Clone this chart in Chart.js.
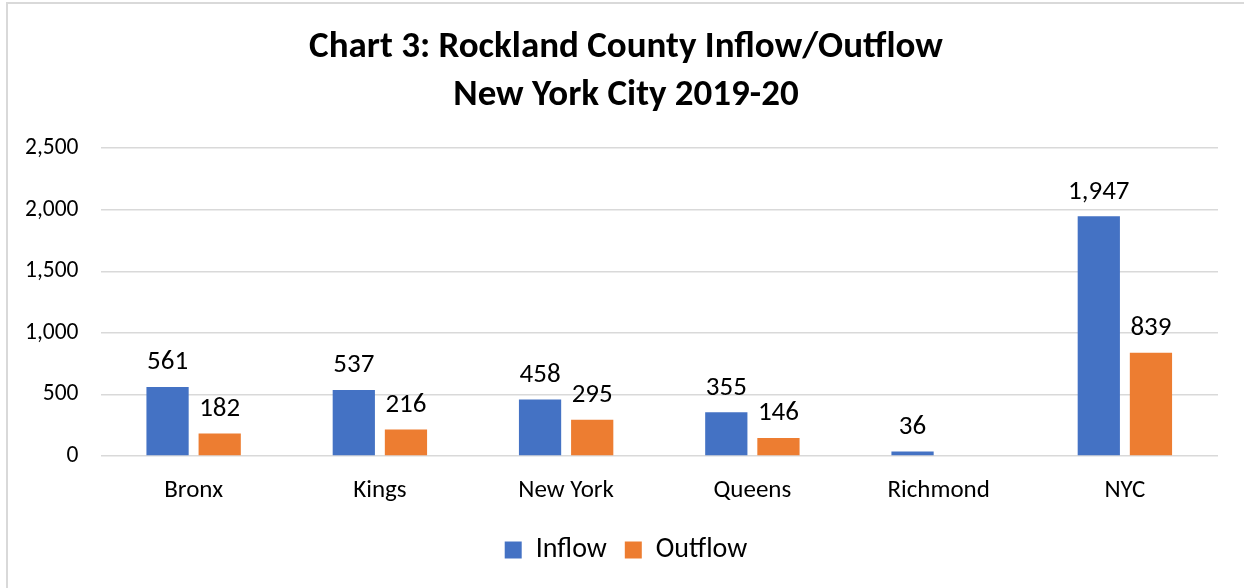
<!DOCTYPE html>
<html>
<head>
<meta charset="utf-8">
<script src="https://cdn.jsdelivr.net/npm/chart.js@4"></script>
<style>
  body { margin: 0; background: #fff; overflow: hidden; }
  #frame { position: absolute; left: 6px; top: 2px; width: 1260px; height: 600px; border: 2px solid #d9d9d9; box-sizing: border-box; }
  #box { position: absolute; left: -5px; top: 0; width: 1246px; height: 584px; }
</style>
</head>
<body>
<div id="frame"><div id="box"><canvas id="myChart"></canvas></div></div>
<script>
// Rockland County inflow/outflow with NYC boroughs, 2019-20
const boroughs = ['Bronx', 'Kings', 'New York', 'Queens', 'Richmond', 'NYC'];
const inflow = [561, 537, 458, 355, 36, 1947];
const outflow = [182, 216, 295, 146, null, 839];
const yTicks = [0, 500, 1000, 1500, 2000, 2500];

const FONT = 'Carlito, Lato, sans-serif';

// draw the number above each bar
const barLabels = {
    id: 'barLabels',
    afterDatasetsDraw(chart) {
        const ctx = chart.ctx;
        ctx.save();
        ctx.font = '27px ' + FONT;
        ctx.fillStyle = '#000';
        ctx.textAlign = 'center';
        ctx.textBaseline = 'bottom';
        chart.data.datasets.forEach((ds, i) => {
            chart.getDatasetMeta(i).data.forEach((bar, j) => {
                const v = ds.data[j];
                if (v === null) return;
                ctx.fillText(v.toLocaleString('en-US'), bar.x, bar.y - 11);
            });
        });
        ctx.restore();
    }
};

const ctx = document.getElementById('myChart');
new Chart(ctx, {
    type: 'bar',
    data: {
        labels: boroughs,
        datasets: [
            { label: 'Inflow', data: inflow, backgroundColor: '#4472c4' },
            { label: 'Outflow', data: outflow, backgroundColor: '#ed7d31' }
        ]
    },
    options: {
        responsive: true,
        maintainAspectRatio: false,
        animation: false,
        categoryPercentage: 0.56,
        barPercentage: 0.81,
        layout: { padding: { left: 0, right: 0, top: 14, bottom: 14 } },
        scales: {
            x: {
                grid: { display: false },
                border: { display: false },
                ticks: { color: '#000', font: { family: FONT, size: 25 }, padding: 12 }
            },
            y: {
                min: 0,
                max: 2500,
                afterBuildTicks: axis => { axis.ticks = yTicks.map(v => ({ value: v })); },
                grid: { color: '#d9d9d9', lineWidth: 1.5, drawTicks: false },
                border: { display: false },
                ticks: {
                    color: '#000',
                    font: { family: FONT, size: 23.5 },
                    padding: 22,
                    callback: v => v.toLocaleString('en-US')
                }
            },
            // empty right margin so the title centres like the original
            yRight: {
                position: 'right',
                grid: { display: false },
                border: { display: false },
                ticks: { display: false },
                afterFit: s => { s.width = 31; }
            }
        },
        plugins: {
            title: {
                display: true,
                text: ['Chart 3: Rockland County Inflow/Outflow', 'New York City 2019-20'],
                color: '#000',
                font: { family: FONT, size: 37, weight: 'bold', lineHeight: 1.3 },
                padding: { top: 6, bottom: 28 }
            },
            legend: {
                position: 'bottom',
                labels: {
                    color: '#000',
                    font: { family: FONT, size: 28 },
                    boxWidth: 17,
                    boxHeight: 17,
                    padding: 18
                }
            },
            tooltip: { enabled: false }
        }
    },
    plugins: [barLabels]
});
</script>
</body>
</html>
